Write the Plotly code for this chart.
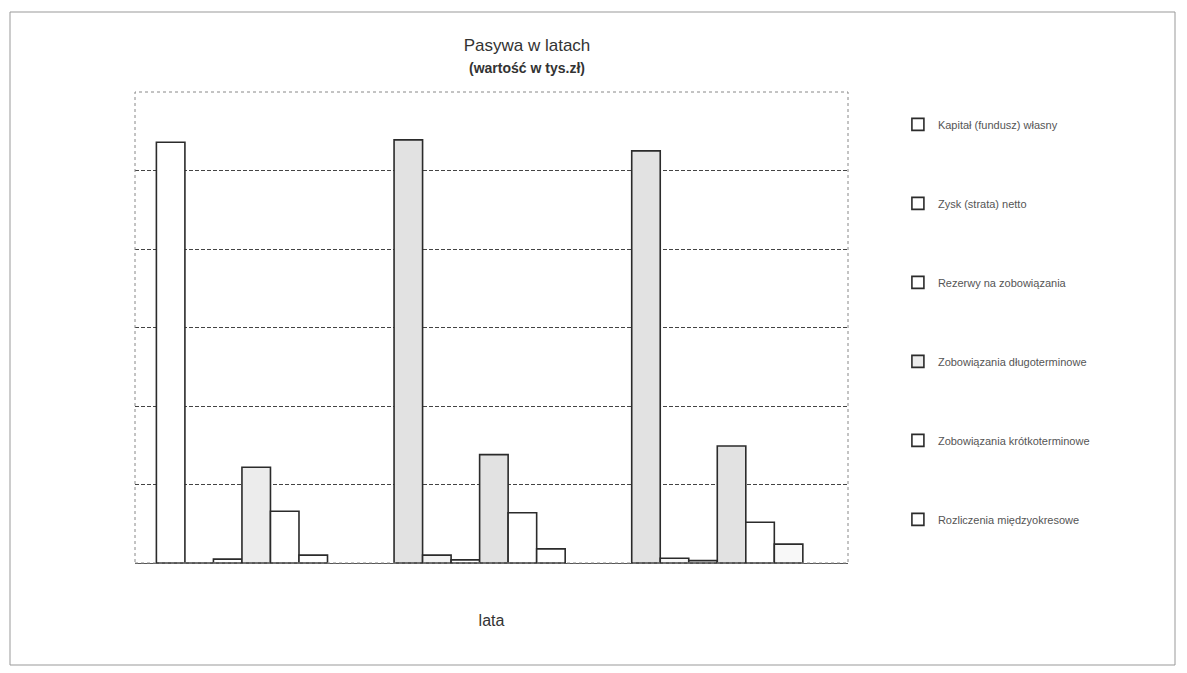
import plotly.graph_objects as go

years = ["2005", "2006", "2007"]
series_names = [
    "Kapitał (fundusz) własny",
    "Zysk (strata) netto",
    "Rezerwy na zobowiązania",
    "Zobowiązania długoterminowe",
    "Zobowiązania krótkoterminowe",
    "Rozliczenia międzyokresowe",
]
kapital = [5360, 5390, 5250]
zysk = [0, 100, 60]
rezerwy = [50, 40, 30]
dlugo = [1220, 1380, 1490]
krotko = [660, 640, 520]
rozlicz = [100, 180, 240]
values = [kapital, zysk, rezerwy, dlugo, krotko, rozlicz]

fills = [
    ["#ffffff", "#e2e2e2", "#e2e2e2"],
    ["#ffffff", "#f2f2f2", "#f6f6f6"],
    ["#ffffff", "#ffffff", "#ffffff"],
    ["#ececec", "#e2e2e2", "#e2e2e2"],
    ["#ffffff", "#ffffff", "#ffffff"],
    ["#ffffff", "#ffffff", "#f8f8f8"],
]

fig = go.Figure()
for i, (name, vals) in enumerate(zip(series_names, values)):
    fig.add_trace(go.Bar(
        x=years, y=vals, name=name, legendgroup=str(i),
        marker=dict(color=fills[i], line=dict(color="#2b2b2b", width=1.6)),
    ))

W, H = 1179, 665
L, T, PW, PH = 127, 84, 713, 471

fig.update_layout(
    width=W, height=H,
    paper_bgcolor="white", plot_bgcolor="white",
    barmode="group", bargap=0.28, bargroupgap=0,
    margin=dict(l=L, r=W - L - PW, t=T, b=H - T - PH),
    font=dict(family="Liberation Sans, Arial, sans-serif", color="#333"),
    title=dict(
        text="Pasywa w latach<br><span style='font-size:14px;font-weight:bold'>(wartość w tys.zł)</span>",
        x=519 / W, xanchor="center", y=1 - 43 / H, yanchor="top",
        font=dict(size=17, color="#333"),
    ),
    showlegend=True,
    legend=dict(
        x=1.070, xanchor="left", y=0.962, yanchor="top",
        font=dict(size=11, color="#555"),
        tracegroupgap=60, bgcolor="rgba(0,0,0,0)",
        itemwidth=30,
    ),
    xaxis=dict(
        range=[-0.45, 2.55], showticklabels=False, ticks="", showgrid=False,
        showline=True, linecolor="#555", linewidth=1,
        title=dict(text="lata", font=dict(size=16, color="#333"), standoff=51),
    ),
    yaxis=dict(
        range=[0, 6000], dtick=1000, showticklabels=False, ticks="",
        showgrid=True, gridcolor="#444", gridwidth=1, griddash="4px,2px",
        zeroline=False, showline=False,
    ),
    shapes=[
        dict(type="rect", xref="paper", yref="paper", x0=0, x1=1, y0=0, y1=1,
             line=dict(color="#888", width=1, dash="dot")),
        dict(type="rect", xref="paper", yref="paper",
             x0=-(L - 2) / PW, x1=(1167 - L) / PW,
             y0=-(657 - T - PH) / PH, y1=(T + PH - 4) / PH,
             line=dict(color="#999", width=1)),
    ],
)

fig.write_html("out.html")
